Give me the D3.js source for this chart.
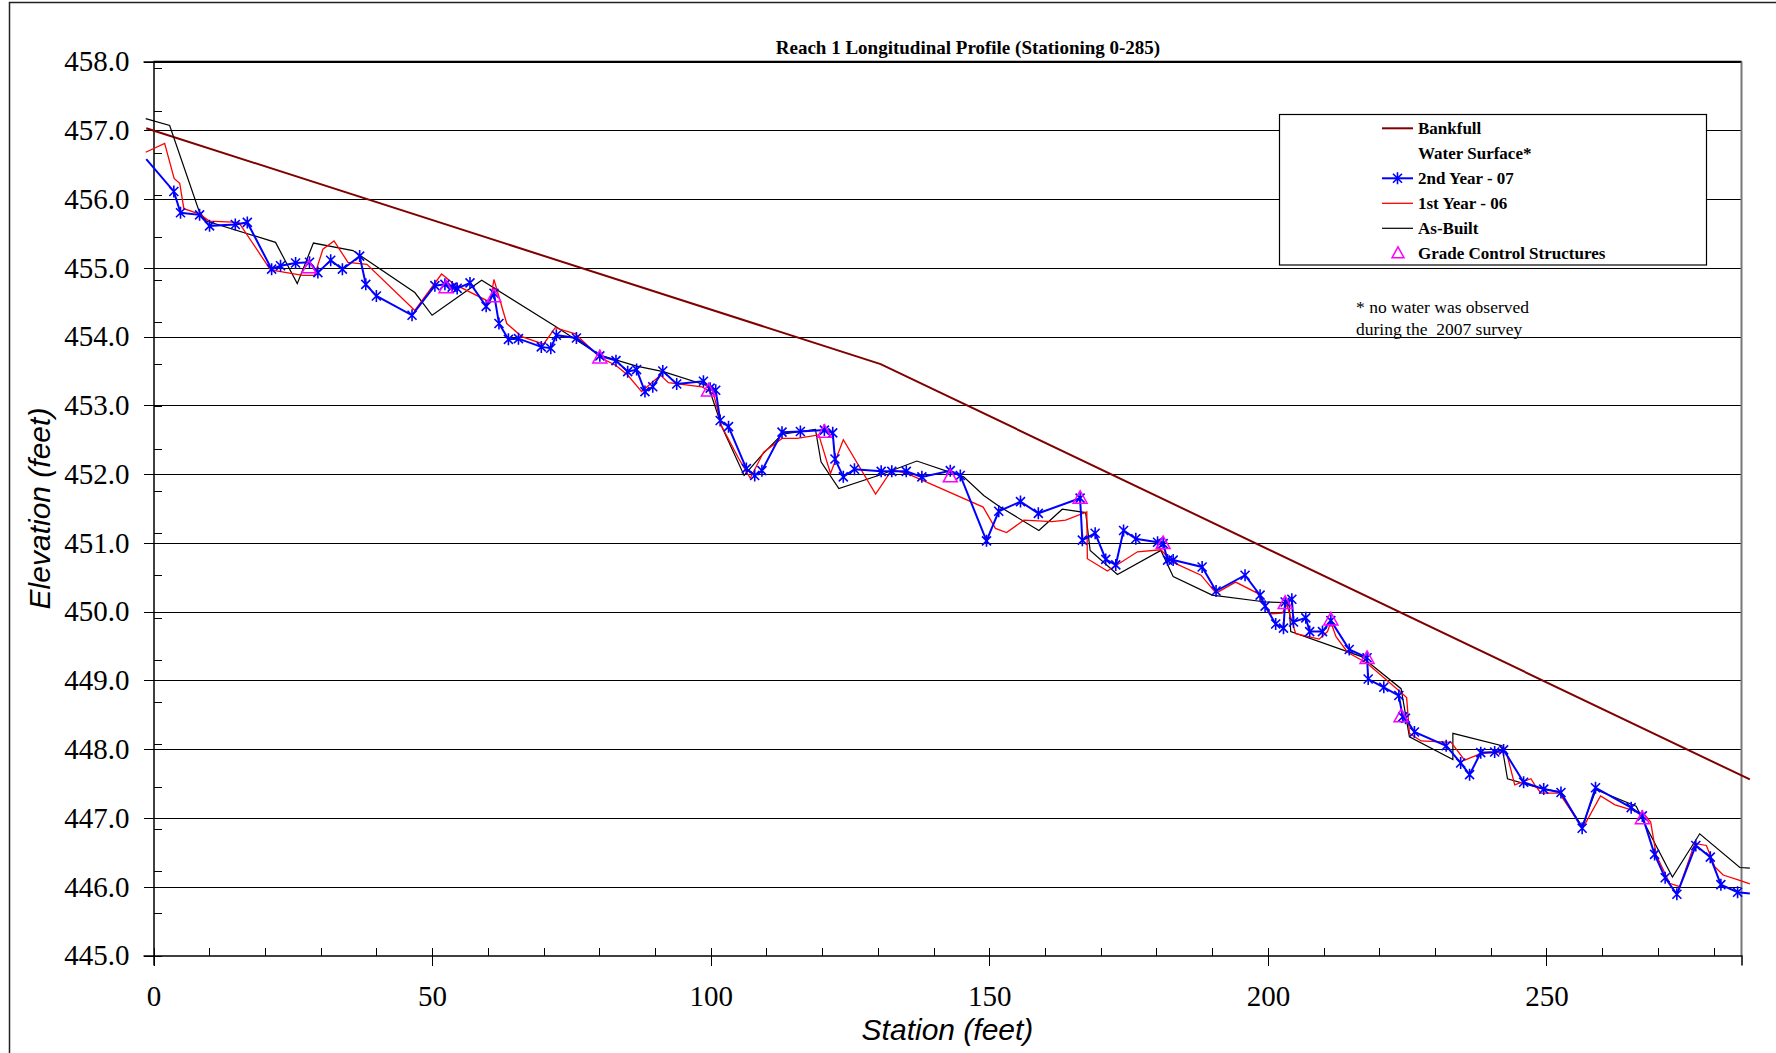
<!DOCTYPE html>
<html><head><meta charset="utf-8">
<script src="https://cdn.jsdelivr.net/npm/d3@7"></script>
<style>body{margin:0;background:#fff;} svg{display:block;}</style>
</head><body>
<svg id="chart" width="1776" height="1053"></svg>
<script>
// ---------------- DATA ----------------
const chartTitle = "Reach 1 Longitudinal Profile (Stationing 0-285)";
const xTickValues = [0, 50, 100, 150, 200, 250];
const yTickValues = [445, 446, 447, 448, 449, 450, 451, 452, 453, 454, 455, 456, 457, 458];
const legendLabels = ["Bankfull", "Water Surface*", "2nd Year - 07", "1st Year - 06", "As-Built", "Grade Control Structures"];
const noteLines = ["* no water was observed", "during the  2007 survey"];

// [station (ft), elevation (ft)]
const bankfull = [[-1.3, 457.03], [130.5, 453.60], [286.5, 447.56]];

const year2 = [
 [-1.3,456.58],[3.65,456.11],[4.85,455.80],[8.27,455.77],[10.06,455.61],[14.68,455.63],[16.84,455.66],
 [21.2,454.98],[22.8,455.03],[25.5,455.07],[28.0,455.08],[29.5,454.93],[31.8,455.11],[33.9,454.98],
 [37.0,455.17],[38.1,454.76],[40.0,454.59],[46.4,454.31],[50.5,454.74],[52.3,454.76],[53.6,454.72],
 [54.5,454.70],[56.8,454.78],[59.7,454.44],[61.1,454.63],[62.0,454.19],[63.7,453.96],[65.5,453.97],
 [69.6,453.85],[71.3,453.83],[72.3,454.02],[75.9,453.98],[80.1,453.72],[83.0,453.65],[85.1,453.49],
 [86.7,453.52],[88.2,453.20],[89.6,453.27],[91.4,453.50],[93.9,453.31],[98.7,453.35],[99.9,453.25],
 [100.9,453.22],[101.7,452.78],[103.2,452.69],[106.4,452.08],[107.9,451.98],[109.2,452.05],[112.8,452.61],
 [116.1,452.62],[120.4,452.64],[121.9,452.60],[122.3,452.22],[123.8,451.96],[125.8,452.07],[130.6,452.04],
 [132.5,452.04],[135.1,452.04],[137.9,451.96],[143.0,452.05],[144.8,451.98],[149.5,451.03],[151.7,451.46],
 [155.6,451.60],[158.8,451.43],[166.3,451.65],[166.7,451.04],[169.0,451.14],[170.9,450.76],[172.7,450.68],
 [174.1,451.18],[176.3,451.06],[180.2,451.01],[181.2,450.99],[182.0,450.75],[183.0,450.75],[188.2,450.65],
 [190.7,450.30],[195.9,450.53],[198.6,450.24],[199.5,450.08],[201.4,449.82],[202.8,449.76],[203.1,450.14],
 [204.3,450.18],[204.6,449.85],[206.8,449.91],[207.5,449.71],[209.8,449.71],[211.3,449.87],[214.6,449.45],
 [217.8,449.33],[218.0,449.02],[220.8,448.90],[223.5,448.78],[224.2,448.47],[224.7,448.45],[226.3,448.25],
 [232.0,448.05],[234.6,447.80],[236.2,447.63],[238.2,447.95],[240.7,447.96],[242.3,447.99],[245.9,447.52],
 [249.5,447.42],[252.6,447.37],[256.4,446.85],[258.8,447.44],[265.2,447.15],[267.2,447.03],[269.4,446.47],
 [271.3,446.13],[273.4,445.89],[276.8,446.60],[279.4,446.43],[281.3,446.03],[284.3,445.92],[286.5,445.90]
];

const year1 = [
 [-1.4,456.68],[2.0,456.81],[3.7,456.30],[4.7,456.23],[5.45,455.86],[8.3,455.78],[10.0,455.68],[15.3,455.66],
 [21.0,454.97],[26.8,454.89],[28.9,454.89],[30.4,455.27],[32.4,455.39],[34.9,455.08],[38.3,455.05],
 [46.9,454.38],[51.7,454.91],[53.8,454.77],[60.4,454.50],[61.1,454.83],[63.4,454.19],[66.1,454.00],
 [70.0,453.89],[72.1,454.13],[75.7,454.04],[80.1,453.70],[83.0,453.58],[85.1,453.44],[87.6,453.20],
 [91.0,453.44],[92.4,453.33],[98.4,453.27],[100.5,453.17],[102.0,452.69],[105.0,452.23],[107.1,451.94],
 [109.5,452.32],[112.8,452.52],[115.5,452.52],[119.4,452.57],[121.5,452.01],[123.8,452.50],[129.6,451.71],
 [132.5,452.06],[135.2,452.01],[148.9,451.52],[151.1,451.21],[153.1,451.15],[156.2,451.33],[161.3,451.31],
 [163.7,451.33],[167.5,451.45],[167.6,450.77],[171.2,450.59],[176.6,450.87],[180.8,450.90],[182.9,450.72],
 [188.0,450.53],[190.7,450.27],[194.2,450.43],[198.1,450.27],[200.5,449.97],[202.6,449.98],[203.4,450.10],
 [205.0,449.68],[209.2,449.60],[210.7,449.71],[211.3,449.85],[212.2,449.64],[214.3,449.41],[217.8,449.25],
 [223.8,448.83],[224.9,448.75],[225.4,448.23],[227.5,448.12],[232.9,448.10],[235.3,447.84],[238.3,447.94],
 [242.8,447.96],[244.3,447.48],[247.2,447.57],[247.9,447.48],[249.0,447.36],[252.3,447.36],[256.5,446.85],
 [259.7,447.32],[262.3,447.19],[265.1,447.12],[267.5,447.06],[268.7,446.94],[269.7,446.46],[272.1,446.05],
 [273.9,446.00],[276.6,446.63],[278.7,446.60],[280.2,446.29],[281.7,446.17],[284.4,446.10],[286.5,446.04]
];

const asBuilt = [
 [-1.4,457.17],[2.9,457.07],[8.2,455.82],[9.5,455.68],[21.9,455.37],[25.8,454.77],[28.7,455.36],
 [35.8,455.25],[46.9,454.64],[50.0,454.31],[58.9,454.82],[72.1,454.15],[80.1,453.73],[86.7,453.57],
 [91.5,453.49],[99.3,453.29],[99.9,453.20],[102.0,452.69],[106.0,451.98],[109.2,452.28],[112.8,452.58],
 [118.8,452.65],[119.8,452.18],[123.0,451.79],[130.5,451.99],[137.0,452.19],[145.4,451.96],[149.0,451.69],
 [152.0,451.52],[158.9,451.18],[163.1,451.49],[167.3,451.44],[168.1,450.89],[173.0,450.54],[180.8,450.89],
 [183.0,450.51],[190.0,450.24],[199.6,450.14],[203.8,450.13],[204.1,449.71],[216.7,449.35],[223.9,448.88],
 [225.4,448.18],[233.2,447.85],[233.2,448.23],[242.0,448.05],[243.0,447.57],[249.0,447.43],[252.3,447.38],
 [256.4,446.88],[258.9,447.41],[266.1,447.17],[267.6,446.92],[272.6,446.14],[277.5,446.77],[284.7,446.28],
 [286.5,446.27]
];

const gradeControl = [
 [27.9,455.00],[52.5,454.71],[61.1,454.58],[80.1,453.69],[99.6,453.21],[120.4,452.61],[143.0,451.96],
 [166.3,451.65],[181.2,450.99],[203.1,450.12],[211.3,449.88],[217.8,449.32],[223.9,448.47],[267.2,446.99]
];

// ---------------- DRAWING ----------------
const svg = d3.select("#chart");
const serif = "'Liberation Serif','Times New Roman',serif";
const sans = "'Liberation Sans',Arial,sans-serif";

const x = d3.scaleLinear().domain([0, 285]).range([153.5, 1741.5]);
const y = d3.scaleLinear().domain([445, 458]).range([955.5, 61.5]);

// outer frame
svg.append("rect").attr("x", 9.5).attr("y", 2.5).attr("width", 1800).attr("height", 1100)
  .attr("fill", "none").attr("stroke", "#222").attr("stroke-width", 1.5);

// horizontal gridlines
const grid = svg.append("g").attr("transform", `translate(${x.range()[0]},0)`)
  .call(d3.axisLeft(y).tickValues(yTickValues.slice(1)).tickSize(-(x.range()[1] - x.range()[0])).tickFormat(""));
grid.select(".domain").remove();
grid.selectAll("line").attr("stroke", "#000").attr("stroke-width", 1).attr("shape-rendering", "crispEdges");

// right border
svg.append("line").attr("x1", x.range()[1]).attr("x2", x.range()[1]).attr("y1", y.range()[1]).attr("y2", y.range()[0])
  .attr("stroke", "#777").attr("stroke-width", 2);

// y axis
const yAxis = svg.append("g").attr("transform", `translate(${x.range()[0]},0)`)
  .call(d3.axisLeft(y).tickValues(yTickValues).tickSize(10).tickPadding(14).tickFormat(d3.format(".1f")));
yAxis.select(".domain").attr("stroke", "#000").attr("stroke-width", 1.5);
yAxis.selectAll("line").attr("stroke", "#000").attr("shape-rendering", "crispEdges");
yAxis.selectAll("text").attr("font-family", serif).attr("font-size", 29).attr("fill", "#000");

// y minor ticks (inside)
const yMinor = svg.append("g").attr("transform", `translate(${x.range()[0]},0)`)
  .call(d3.axisLeft(y).tickValues(d3.range(22).map(k => 445 + k * 0.6143)).tickSize(-8).tickFormat(""));
yMinor.select(".domain").remove();
yMinor.selectAll("line").attr("stroke", "#000").attr("shape-rendering", "crispEdges");

// x axis
const xAxis = svg.append("g").attr("transform", `translate(0,${y.range()[0]})`)
  .call(d3.axisBottom(x).tickValues(xTickValues).tickSize(10).tickPadding(20).tickFormat(d3.format("d")));
xAxis.select(".domain").attr("stroke", "#000").attr("stroke-width", 1.5);
xAxis.selectAll("line").attr("stroke", "#000").attr("shape-rendering", "crispEdges");
xAxis.selectAll("text").attr("font-family", serif).attr("font-size", 29).attr("fill", "#000");
// inside part of major ticks + minor ticks
const xMinor = svg.append("g").attr("transform", `translate(0,${y.range()[0]})`)
  .call(d3.axisBottom(x).tickValues(d3.range(0, 290, 10)).tickSize(-8).tickFormat(""));
xMinor.select(".domain").remove();
xMinor.selectAll("line").attr("stroke", "#000").attr("shape-rendering", "crispEdges");

// top border (458 line)
svg.append("line").attr("x1", x.range()[0]).attr("x2", x.range()[1]).attr("y1", y(458)).attr("y2", y(458))
  .attr("stroke", "#000").attr("stroke-width", 1.5);

// axis titles
svg.append("text").attr("x", (x.range()[0] + x.range()[1]) / 2).attr("y", 1040)
  .attr("text-anchor", "middle").attr("font-family", sans).attr("font-style", "italic")
  .attr("font-size", 30).text("Station (feet)");
svg.append("text").attr("transform", `translate(50,${(y.range()[0] + y.range()[1]) / 2}) rotate(-90)`)
  .attr("text-anchor", "middle").attr("font-family", sans).attr("font-style", "italic")
  .attr("font-size", 30).text("Elevation (feet)");

// title
svg.append("text").attr("x", 968).attr("y", 53.5).attr("text-anchor", "middle")
  .attr("font-family", serif).attr("font-weight", "bold").attr("font-size", 19).text(chartTitle);

// lines
const line = d3.line().x(d => x(d[0])).y(d => y(d[1]));
svg.append("path").datum(bankfull).attr("d", line).attr("fill", "none").attr("stroke", "#800000").attr("stroke-width", 2);
svg.append("path").datum(asBuilt).attr("d", line).attr("fill", "none").attr("stroke", "#000").attr("stroke-width", 1.2);
svg.append("path").datum(year1).attr("d", line).attr("fill", "none").attr("stroke", "#ff0000").attr("stroke-width", 1.3);
svg.append("path").datum(year2).attr("d", line).attr("fill", "none").attr("stroke", "#0000ff").attr("stroke-width", 2);

// asterisk markers
const starPath = "M-4.5,-4.5L4.5,4.5M-4.5,4.5L4.5,-4.5M0,-6L0,6";
const inDomain = d => d[0] >= x.domain()[0] && d[0] <= x.domain()[1];
svg.append("g").selectAll("path").data(year2.filter(inDomain)).join("path")
  .attr("transform", d => `translate(${x(d[0])},${y(d[1])})`)
  .attr("d", starPath).attr("fill", "none").attr("stroke", "#0000ff").attr("stroke-width", 1.6);

// grade control triangles
const triPath = "M0,-7.5L7,5L-7,5Z";
svg.append("g").selectAll("path").data(gradeControl).join("path")
  .attr("transform", d => `translate(${x(d[0])},${y(d[1])})`)
  .attr("d", triPath).attr("fill", "none").attr("stroke", "#ff00ff").attr("stroke-width", 1.5);

// legend
const lg = svg.append("g");
lg.append("rect").attr("x", 1279.5).attr("y", 114.5).attr("width", 427).attr("height", 150.5)
  .attr("fill", "#fff").attr("stroke", "#000").attr("stroke-width", 1.2);
const legendStyles = [
  {type: "line", color: "#800000", w: 2},
  {type: "none"},
  {type: "star", color: "#0000ff", w: 2},
  {type: "line", color: "#ff0000", w: 1.3},
  {type: "line", color: "#000", w: 1.2},
  {type: "tri", color: "#ff00ff"}
];
legendLabels.forEach((lab, i) => {
  const by = 134.3 + i * 25;
  const ly = by - 6;
  const s = legendStyles[i];
  if (s.type === "line" || s.type === "star") {
    lg.append("line").attr("x1", 1382).attr("x2", 1413).attr("y1", ly).attr("y2", ly)
      .attr("stroke", s.color).attr("stroke-width", s.w);
  }
  if (s.type === "star") {
    lg.append("path").attr("transform", `translate(1397.5,${ly})`).attr("d", starPath)
      .attr("fill", "none").attr("stroke", s.color).attr("stroke-width", 1.6);
  }
  if (s.type === "tri") {
    lg.append("path").attr("transform", `translate(1398,${ly})`).attr("d", "M0,-6.5L6,4.5L-6,4.5Z")
      .attr("fill", "none").attr("stroke", s.color).attr("stroke-width", 1.5);
  }
  lg.append("text").attr("x", 1418).attr("y", by).attr("font-family", serif).attr("font-weight", "bold")
    .attr("font-size", 17).attr("fill", "#000").text(lab);
});

// note
noteLines.forEach((t, i) => {
  svg.append("text").attr("x", 1356).attr("y", 313.3 + i * 22).attr("font-family", serif)
    .attr("font-size", 17.5).attr("fill", "#000").style("white-space", "pre").text(t);
});
</script>
</body></html>
